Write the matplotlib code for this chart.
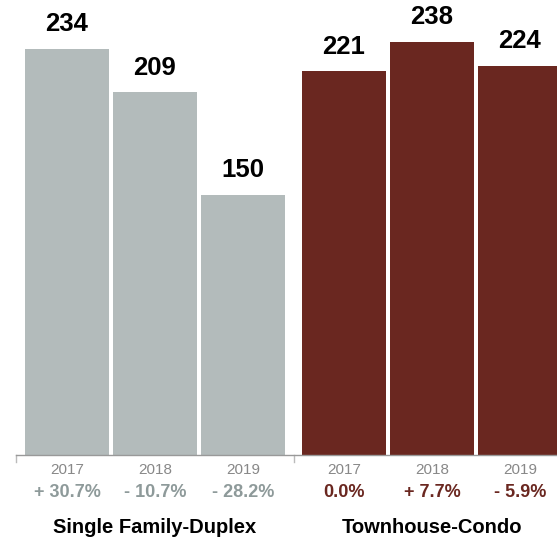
import matplotlib
matplotlib.use("Agg")
import matplotlib.pyplot as plt
import matplotlib.transforms as mtransforms

plt.rcParams['font.family'] = ['Liberation Sans', 'DejaVu Sans']

# data
groups = ['Single Family-Duplex', 'Townhouse-Condo']
years = ['2017', '2018', '2019']
single_family = [234, 209, 150]
townhouse = [221, 238, 224]
single_change = ['+ 30.7%', '- 10.7%', '- 28.2%']
townhouse_change = ['0.0%', '+ 7.7%', '- 5.9%']

gray = '#b3bbbb'
red = '#6a2720'
gray_text = '#8e9a9a'

fig = plt.figure(figsize=(5.57, 5.40), dpi=100)
ax = fig.add_axes([16 / 557, 85 / 540, 1 - 16 / 557, 455 / 540])

pos1 = [0, 1, 2]
pos2 = [3.148, 4.148, 5.148]
width = 0.955

ax.bar(pos1, single_family, width, color=gray)
ax.bar(pos2, townhouse, width, color=red)

for x, v in zip(pos1 + pos2, single_family + townhouse):
    ax.annotate(str(v), (x, v), xytext=(0, 9), textcoords='offset points',
                ha='center', va='bottom', fontsize=18.5, fontweight='bold',
                color='black')

ax.set_xlim(-0.58, 5.57)
ax.set_ylim(0, 262)

for s in ['top', 'right', 'left']:
    ax.spines[s].set_visible(False)
ax.spines['bottom'].set_color('#999999')
ax.spines['bottom'].set_linewidth(1)
ax.set_yticks([])

ax.set_xticks(pos1 + pos2)
ax.set_xticklabels(years + years, fontsize=11, color='#888888')
ax.tick_params(axis='x', length=0, pad=6)

# group boundary ticks
trans = mtransforms.blended_transform_factory(ax.transData, ax.transAxes)
for xb in [-0.58, 2.58]:
    ax.plot([xb, xb], [0, -0.015], transform=trans, color='#bbbbbb',
            lw=1, clip_on=False)

for x, t in zip(pos1, single_change):
    ax.text(x, -0.082, t, transform=trans, ha='center', va='center',
            fontsize=13, fontweight='bold', color=gray_text)
for x, t in zip(pos2, townhouse_change):
    ax.text(x, -0.082, t, transform=trans, ha='center', va='center',
            fontsize=13, fontweight='bold', color=red)

ax.text(1, -0.16, groups[0], transform=trans, ha='center', va='center',
        fontsize=14.5, fontweight='bold', color='black')
ax.text(4.148, -0.16, groups[1], transform=trans, ha='center', va='center',
        fontsize=14.5, fontweight='bold', color='black')

fig.savefig('out.png', dpi=100)
